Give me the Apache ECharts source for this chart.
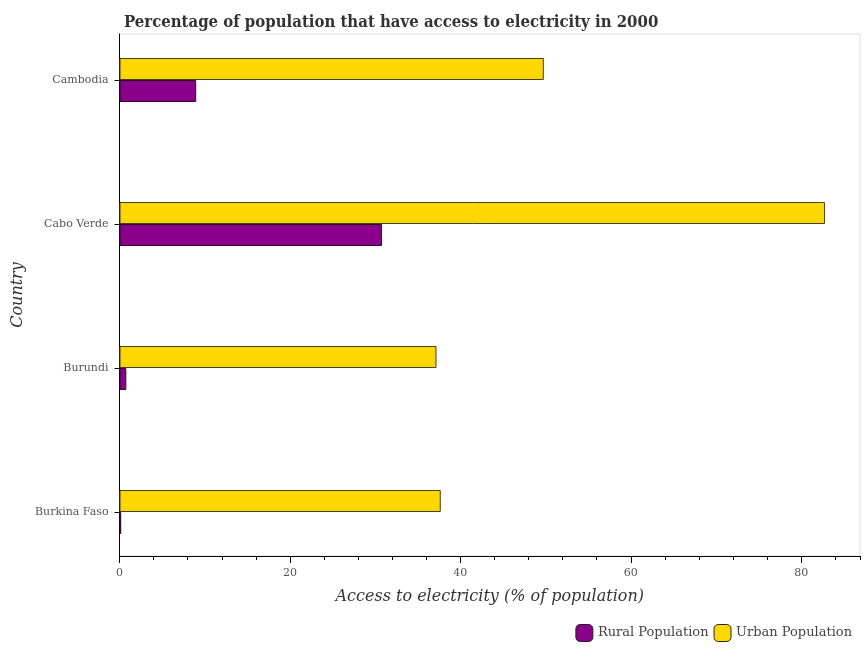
<!DOCTYPE html>
<html><head><meta charset="utf-8">
<script src="https://cdn.jsdelivr.net/npm/echarts@6/dist/echarts.min.js"></script>
<style>html,body{margin:0;padding:0;background:#fff}#c{width:865px;height:650px}</style>
</head><body><div id="c"></div>
<script>
const categories = ['Burkina Faso', 'Burundi', 'Cabo Verde', 'Cambodia'];
const rural = [0.2, 0.8, 30.8, 9.0];
const urban = [37.7, 37.2, 82.8, 49.8];
const xTickStep = 4;
const xLabelStep = 20;

const XMAX = 86.9;
const serif = 'DejaVu Serif';
const chart = echarts.init(document.getElementById('c'));
chart.setOption({
  animation: false,
  title: [
    {text: 'Percentage of population that have access to electricity in 2000', left: 119, top: 9,
     textStyle: {fontFamily: 'DejaVu Serif Condensed', fontWeight: 'bold', fontSize: 16.6, color: '#333'}}
  ],
  legend: {
    right: 8, top: 619, itemWidth: 17, itemHeight: 17, itemGap: 5,
    textStyle: {fontFamily: serif, fontSize: 13, color: '#444'},
    data: [
      {name: 'Rural Population', itemStyle: {color: '#8B008B', borderColor: '#222', borderWidth: 1}},
      {name: 'Urban Population', itemStyle: {color: '#FFD700', borderColor: '#222', borderWidth: 1}}
    ]
  },
  grid: [
    {left: 119.5, right: 5, top: 8, bottom: 66},
    {left: 119.5, right: 5, top: 34, bottom: 94, show: true, borderColor: '#ddd', borderWidth: 1, backgroundColor: 'transparent'},
    {left: 119.5, right: 5, top: 34, bottom: 94}
  ],
  xAxis: [
    {gridIndex: 0, type: 'value', min: 0, max: XMAX, show: false},
    {gridIndex: 1, type: 'value', min: 0, max: XMAX, interval: xLabelStep,
     axisLine: {show: true, lineStyle: {color: '#000', width: 1}},
     axisTick: {show: true, length: 7, lineStyle: {color: '#000'}},
     axisLabel: {fontFamily: serif, fontSize: 11, color: '#555', margin: 12, showMaxLabel: false,
       formatter: v => (Math.abs(v % xLabelStep) < 1e-6 ? String(v) : '')},
     splitLine: {show: false},
     name: 'Access to electricity (% of population)', nameLocation: 'middle', nameGap: 33,
     nameTextStyle: {fontFamily: serif, fontStyle: 'italic', fontSize: 16, color: '#333'}},
    {gridIndex: 2, type: 'value', min: 0, max: XMAX, interval: xTickStep, position: 'bottom',
     axisLine: {show: false},
     axisTick: {show: true, length: 4, lineStyle: {color: '#000'}},
     axisLabel: {show: false}, splitLine: {show: false}}
  ],
  yAxis: [
    {gridIndex: 0, type: 'category', data: categories,
     axisLine: {show: false},
     axisTick: {show: true, alignWithLabel: true, length: 5, lineStyle: {color: '#000'}},
     axisLabel: {fontFamily: serif, fontSize: 11, color: '#555', margin: 11}},
    {gridIndex: 1, type: 'value', min: 0, max: 1,
     axisLine: {show: true, lineStyle: {color: '#000', width: 1}},
     axisTick: {show: false}, axisLabel: {show: false}, splitLine: {show: false},
     name: 'Country', nameLocation: 'middle', nameGap: 94,
     nameTextStyle: {fontFamily: serif, fontStyle: 'italic', fontSize: 16, color: '#333'}},
    {gridIndex: 2, type: 'value', show: false}
  ],
  series: [
    {name: 'Urban Population', type: 'bar', xAxisIndex: 0, yAxisIndex: 0, data: urban,
     barWidth: 22, barGap: '0%',
     itemStyle: {color: '#FFD700', borderColor: '#4a3f10', borderWidth: 1}},
    {name: 'Rural Population', type: 'bar', xAxisIndex: 0, yAxisIndex: 0, data: rural,
     barWidth: 22, barGap: '0%',
     itemStyle: {color: '#8B008B', borderColor: '#2a0a2a', borderWidth: 1}}
  ]
});
</script></body></html>
